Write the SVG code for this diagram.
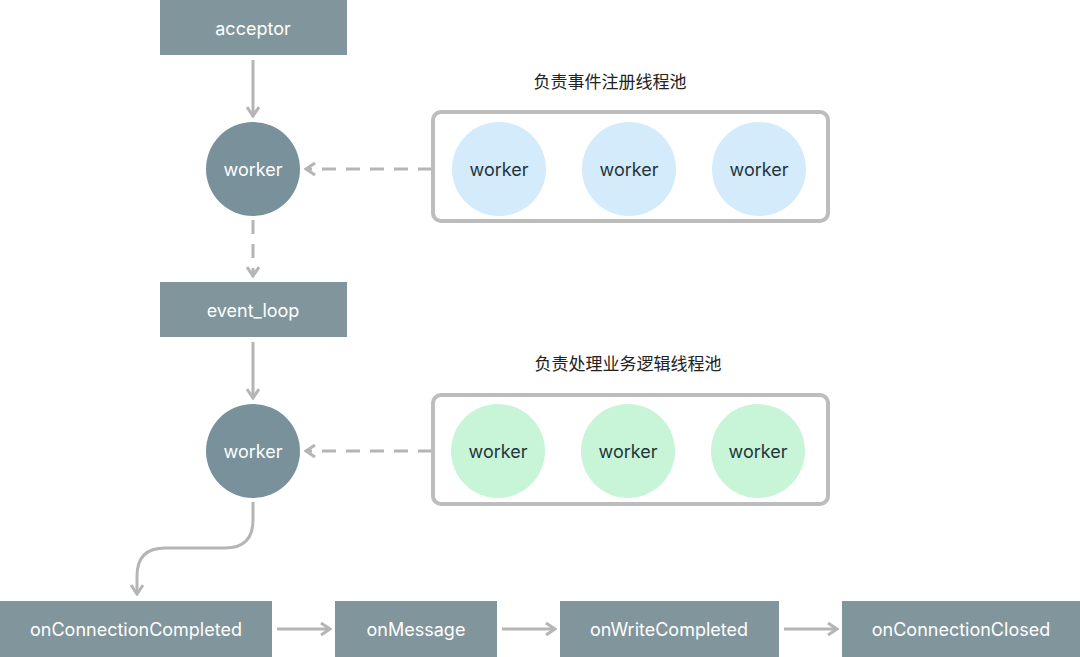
<svg xmlns="http://www.w3.org/2000/svg" width="1080" height="657" viewBox="0 0 1080 657">
<style>
.box{fill:#81969c}
.dark{fill:#78919a}
.wt{fill:#fff;font-family:Inter,"Noto Sans",sans-serif;font-size:18px;text-anchor:middle;dominant-baseline:central}
.dt{fill:#24343a;font-family:Inter,"Noto Sans",sans-serif;font-size:18px;text-anchor:middle;dominant-baseline:central}
.cn{fill:#222;font-family:"Noto Sans CJK SC",sans-serif;font-size:17px;text-anchor:middle;dominant-baseline:central}
.pool{fill:none;stroke:#bdbdbd;stroke-width:4}
.c{fill:none;stroke:#b5b5b5;stroke-width:3;marker-end:url(#ah)}
.d{stroke-dasharray:14 10}
</style>
<defs><marker id="ah" viewBox="0 0 12 14" refX="10" refY="7" markerWidth="12" markerHeight="14" markerUnits="userSpaceOnUse" orient="auto"><path d="M1,1 L10,7 L1,13" fill="none" stroke="#b5b5b5" stroke-width="3"/></marker></defs>
<g id="connectors">
<path class="c" d="M253,60 V116"/>
<path class="c d" d="M432,169 H306"/>
<path class="c d" d="M253,220 V276"/>
<path class="c" d="M253,342 V398"/>
<path class="c d" d="M432,451 H306"/>
<path class="c" d="M253,502 V520 Q253,548 225,548 H165 Q137,548 137,576 V594"/>
<path class="c" d="M277,629 H330"/>
<path class="c" d="M502,629 H555"/>
<path class="c" d="M784,629 H837"/>
</g>
<g id="acceptor"><rect class="box" x="160" y="0" width="187" height="55"/><text class="wt" x="253" y="28">acceptor</text></g>
<g id="worker1"><circle class="dark" cx="253" cy="169" r="47"/><text class="wt" x="253" y="169">worker</text></g>
<g id="pool1"><text class="cn" x="610" y="80">负责事件注册线程池</text><rect class="pool" x="433" y="112" width="395" height="109" rx="8"/>
<circle cx="499" cy="169" r="47" fill="#d3ebfb"/><text class="dt" x="499" y="169">worker</text>
<circle cx="629" cy="169" r="47" fill="#d3ebfb"/><text class="dt" x="629" y="169">worker</text>
<circle cx="759" cy="169" r="47" fill="#d3ebfb"/><text class="dt" x="759" y="169">worker</text></g>
<g id="event_loop"><rect class="box" x="160" y="282" width="187" height="55"/><text class="wt" x="253" y="310">event_loop</text></g>
<g id="worker2"><circle class="dark" cx="253" cy="451" r="47"/><text class="wt" x="253" y="451">worker</text></g>
<g id="pool2"><text class="cn" x="628" y="362">负责处理业务逻辑线程池</text><rect class="pool" x="433" y="395" width="395" height="109" rx="8"/>
<circle cx="498" cy="451" r="47" fill="#c8f5d8"/><text class="dt" x="498" y="451">worker</text>
<circle cx="628" cy="451" r="47" fill="#c8f5d8"/><text class="dt" x="628" y="451">worker</text>
<circle cx="758" cy="451" r="47" fill="#c8f5d8"/><text class="dt" x="758" y="451">worker</text></g>
<g id="onConnectionCompleted"><rect class="box" x="0" y="601" width="272" height="56"/><text class="wt" x="136" y="629">onConnectionCompleted</text></g>
<g id="onMessage"><rect class="box" x="335" y="601" width="162" height="56"/><text class="wt" x="416" y="629">onMessage</text></g>
<g id="onWriteCompleted"><rect class="box" x="560" y="601" width="219" height="56"/><text class="wt" x="669" y="629">onWriteCompleted</text></g>
<g id="onConnectionClosed"><rect class="box" x="842" y="601" width="238" height="56"/><text class="wt" x="961" y="629">onConnectionClosed</text></g>
</svg>
